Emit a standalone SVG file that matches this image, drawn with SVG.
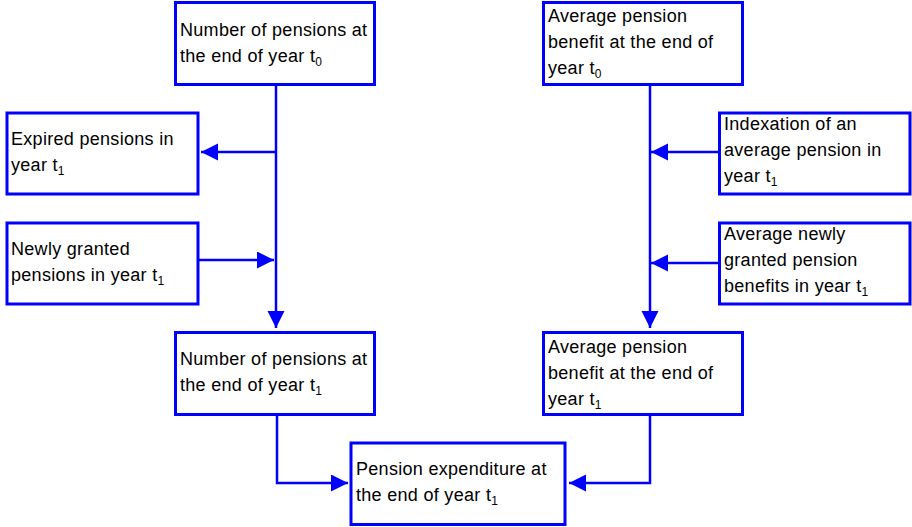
<svg xmlns="http://www.w3.org/2000/svg" width="912" height="527" viewBox="0 0 912 527">
<defs>
<style>
.box{fill:#ffffff;stroke:#0000ff;stroke-width:3}
.con{fill:none;stroke:#0000ff;stroke-width:2.5}
text{font-family:"Liberation Sans",Arial,sans-serif;font-size:18px;letter-spacing:0.3px;fill:#000000}
.sub{font-size:12px}
</style>
<marker id="ah" markerUnits="userSpaceOnUse" markerWidth="18" markerHeight="18" refX="17" refY="8.5" orient="auto">
<path d="M0,0 L17,8.5 L0,17 z" fill="#0000ff"/>
</marker>
</defs>
<rect width="912" height="527" fill="#ffffff"/>
<g id="connectors">
<path class="con" d="M276,86 V328" marker-end="url(#ah)"/>
<path class="con" d="M276,152 H201" marker-end="url(#ah)"/>
<path class="con" d="M199,260 H274" marker-end="url(#ah)"/>
<path class="con" d="M650,86 V328" marker-end="url(#ah)"/>
<path class="con" d="M718,152 H651" marker-end="url(#ah)"/>
<path class="con" d="M718,263 H651" marker-end="url(#ah)"/>
<path class="con" d="M277,416 V483 H348" marker-end="url(#ah)"/>
<path class="con" d="M650,416 V483 H569" marker-end="url(#ah)"/>
</g>
<g id="n_pensions_t0">
<rect class="box" x="175.5" y="2.5" width="199" height="82"/>
<text x="180" y="36">Number of pensions at</text>
<text x="180" y="62">the end of year t<tspan class="sub" dy="4">0</tspan></text>
</g>
<g id="avg_benefit_t0">
<rect class="box" x="543.5" y="2.5" width="199" height="82"/>
<text x="548" y="22">Average pension</text>
<text x="548" y="48">benefit at the end of</text>
<text x="548" y="74">year t<tspan class="sub" dy="4">0</tspan></text>
</g>
<g id="expired">
<rect class="box" x="7" y="113" width="191" height="81"/>
<text x="11" y="145">Expired pensions in</text>
<text x="11" y="171">year t<tspan class="sub" dy="4">1</tspan></text>
</g>
<g id="newly_granted">
<rect class="box" x="7" y="223" width="191" height="81"/>
<text x="11" y="255">Newly granted</text>
<text x="11" y="281">pensions in year t<tspan class="sub" dy="4">1</tspan></text>
</g>
<g id="indexation">
<rect class="box" x="719.5" y="113" width="190.5" height="81"/>
<text x="724" y="130">Indexation of an</text>
<text x="724" y="156">average pension in</text>
<text x="724" y="182">year t<tspan class="sub" dy="4">1</tspan></text>
</g>
<g id="avg_newly">
<rect class="box" x="719.5" y="223" width="190.5" height="81"/>
<text x="724" y="240">Average newly</text>
<text x="724" y="266">granted pension</text>
<text x="724" y="292">benefits in year t<tspan class="sub" dy="4">1</tspan></text>
</g>
<g id="n_pensions_t1">
<rect class="box" x="175.5" y="332.5" width="199" height="82"/>
<text x="180" y="365">Number of pensions at</text>
<text x="180" y="391">the end of year t<tspan class="sub" dy="4">1</tspan></text>
</g>
<g id="avg_benefit_t1">
<rect class="box" x="543.5" y="332.5" width="199" height="82"/>
<text x="548" y="353">Average pension</text>
<text x="548" y="379">benefit at the end of</text>
<text x="548" y="405">year t<tspan class="sub" dy="4">1</tspan></text>
</g>
<g id="expenditure_t1">
<rect class="box" x="351" y="443" width="214" height="81.5"/>
<text x="356" y="475">Pension expenditure at</text>
<text x="356" y="501">the end of year t<tspan class="sub" dy="4">1</tspan></text>
</g>
</svg>
